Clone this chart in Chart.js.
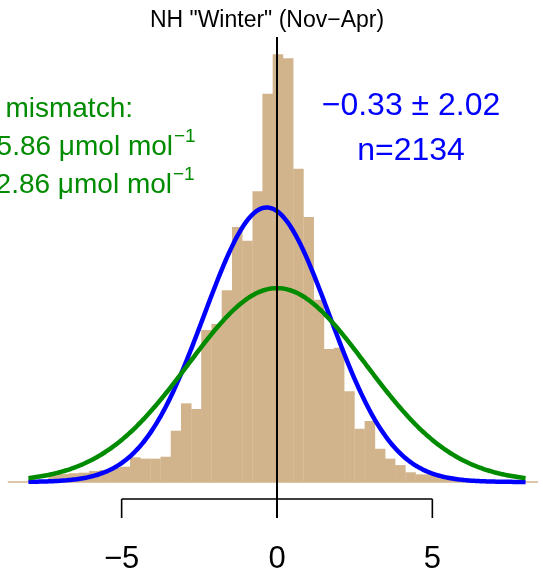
<!DOCTYPE html>
<html>
<head>
<meta charset="utf-8">
<script src="https://cdn.jsdelivr.net/npm/chart.js@4.4.1/dist/chart.umd.min.js"></script>
<style>
    html, body { margin: 0; padding: 0; background: #ffffff; }
    #wrap { width: 543px; height: 570px; position: relative; }
</style>
</head>
<body>
<div id="wrap"><canvas id="hist"></canvas></div>
<script>
// --- Data ---

// histogram bin centres and heights (density units)
const binCenters = [
    -8.50, -8.17, -7.85, -7.52, -7.19, -6.86, -6.53, -6.21, -5.88, -5.55,
    -5.22, -4.89, -4.56, -4.24, -3.91, -3.58, -3.25, -2.92, -2.59, -2.27,
    -1.94, -1.61, -1.28, -0.95, -0.62, -0.30, 0.03, 0.36, 0.69, 1.02,
    1.35, 1.67, 2.00, 2.33, 2.66, 2.99, 3.32, 3.64, 3.97, 4.30,
    4.63, 4.96, 5.29, 5.61, 5.94, 6.27, 6.60, 6.93, 7.26, 7.58,
    7.91, 8.24,
];
const binDensity = [
    0, 0, 0.0014, 0.0014, 0.0050, 0.0058, 0.0063, 0.0067, 0.0079, 0.0086,
    0.0101, 0.0110, 0.0178, 0.0168, 0.0168, 0.0182, 0.0369, 0.0566, 0.0525, 0.1093,
    0.1136, 0.1380, 0.1835, 0.1735, 0.2092, 0.2793, 0.3077, 0.3048, 0.2254, 0.1907,
    0.1311, 0.0956, 0.0965, 0.0652, 0.0383, 0.0439, 0.0239, 0.0168, 0.0122, 0.0070,
    0.0055, 0.0055, 0.0036, 0.0025, 0.0014, 0.0014, 0.0007, 0, 0, 0,
    0, 0,
];
const binWidth = 0.328;

const xTicks = [-5, 0, 5];
const xTickLabels = ['\u22125', '0', '5'];

// fitted normal (blue) and assumed mismatch normal (green)
const fitMean = -0.33;
const fitSd = 2.02;
const fitCount = 2134;
const mismatchMean = 0;
const mismatchSd = 2.86;
const curveFrom = -8;
const curveTo = 8;

// --- Helpers ---
function dnorm(x, mu, sd) {
    const z = (x - mu) / sd;
    return Math.exp(-0.5 * z * z) / (sd * Math.sqrt(2 * Math.PI));
}

function normalCurve(mu, sd) {
    const pts = [];
    for (let x = curveFrom; x <= curveTo + 1e-9; x += 0.05) {
        pts.push({ x: x, y: dnorm(x, mu, sd) });
    }
    return pts;
}

const TAN = '#D2B48C';
const BLUE = '#0000FF';
const GREEN = '#008B00';
const FONT = '"Liberation Sans", Arial, Helvetica, sans-serif';

// R-style decorations: baseline, zero line, bottom axis and the text labels
const decorations = {
    id: 'decorations',
    beforeDatasetsDraw(chart) {
        const { ctx, scales: { x, y } } = chart;
        const y0 = y.getPixelForValue(0);
        const left = x.getPixelForValue(binCenters[0] - binWidth / 2);
        const right = x.getPixelForValue(binCenters[binCenters.length - 1] + binWidth / 2);
        ctx.save();
        ctx.strokeStyle = TAN;
        ctx.lineWidth = 1.5;
        ctx.beginPath();
        ctx.moveTo(left, y0);
        ctx.lineTo(right, y0);
        ctx.stroke();
        ctx.restore();
    },
    afterDatasetsDraw(chart) {
        const { ctx, chartArea, scales: { x } } = chart;
        const axisY = chartArea.bottom;
        const tickEnd = axisY + 19;
        ctx.save();

        // vertical line at zero
        ctx.strokeStyle = '#000000';
        ctx.lineWidth = 2;
        ctx.beginPath();
        ctx.moveTo(x.getPixelForValue(0), chartArea.top);
        ctx.lineTo(x.getPixelForValue(0), tickEnd);
        ctx.stroke();

        // bottom axis
        ctx.strokeStyle = '#000000';
        ctx.lineWidth = 1.6;
        ctx.beginPath();
        ctx.moveTo(x.getPixelForValue(xTicks[0]), axisY);
        ctx.lineTo(x.getPixelForValue(xTicks[xTicks.length - 1]), axisY);
        xTicks.forEach(t => {
            ctx.moveTo(x.getPixelForValue(t), axisY);
            ctx.lineTo(x.getPixelForValue(t), tickEnd);
        });
        ctx.stroke();

        ctx.fillStyle = '#000000';
        ctx.font = '31px ' + FONT;
        ctx.textAlign = 'center';
        ctx.textBaseline = 'alphabetic';
        xTicks.forEach((t, i) => {
            ctx.fillText(xTickLabels[i], x.getPixelForValue(t), 568);
        });

        // title
        ctx.font = '23px ' + FONT;
        ctx.fillText('NH "Winter" (Nov\u2212Apr)', 267, 27);

        // fit summary (blue)
        ctx.fillStyle = BLUE;
        ctx.font = '32px ' + FONT;
        ctx.fillText('\u22120.33 \u00B1 2.02', 411, 115);
        ctx.fillText('n=' + fitCount, 411, 160);

        // mismatch text (green), cut off at the left edge
        ctx.fillStyle = GREEN;
        ctx.textAlign = 'right';
        ctx.font = '28px ' + FONT;
        ctx.fillText('mismatch:', 133, 117);
        ctx.fillText('5.86 \u03BCmol mol', 173, 155);
        ctx.fillText('2.86 \u03BCmol mol', 172, 193);
        ctx.textAlign = 'left';
        ctx.font = '19px ' + FONT;
        ctx.fillText('\u22121', 174, 142);
        ctx.fillText('\u22121', 173, 180);

        ctx.restore();
    },
};

const ctx = document.getElementById('hist').getContext('2d');
const histChart = new Chart(ctx, {
    type: 'bar',
    data: {
        datasets: [
            {
                type: 'bar',
                label: 'density',
                data: binCenters.map((c, i) => ({ x: c, y: binDensity[i] })),
                backgroundColor: TAN,
                borderWidth: 0,
                barPercentage: 1.06,
                categoryPercentage: 1,
                order: 3,
            },
            {
                type: 'line',
                label: 'fit',
                data: normalCurve(fitMean, fitSd),
                borderColor: BLUE,
                borderWidth: 4.5,
                pointRadius: 0,
                tension: 0,
                fill: false,
                order: 2,
            },
            {
                type: 'line',
                label: 'mismatch',
                data: normalCurve(mismatchMean, mismatchSd),
                borderColor: GREEN,
                borderWidth: 4.5,
                pointRadius: 0,
                tension: 0,
                fill: false,
                order: 1,
            },
        ],
    },
    options: {
        responsive: true,
        maintainAspectRatio: false,
        animation: false,
        layout: { padding: { top: 37, bottom: 71, left: 0, right: 0 } },
        plugins: {
            legend: { display: false },
            tooltip: { enabled: false },
        },
        scales: {
            x: {
                type: 'linear',
                display: false,
                offset: false,
                min: -8.915,
                max: 8.561,
            },
            y: {
                display: false,
                min: -0.01223,
                max: 0.32014,
            },
        },
    },
    plugins: [decorations],
});
</script>
</body>
</html>
